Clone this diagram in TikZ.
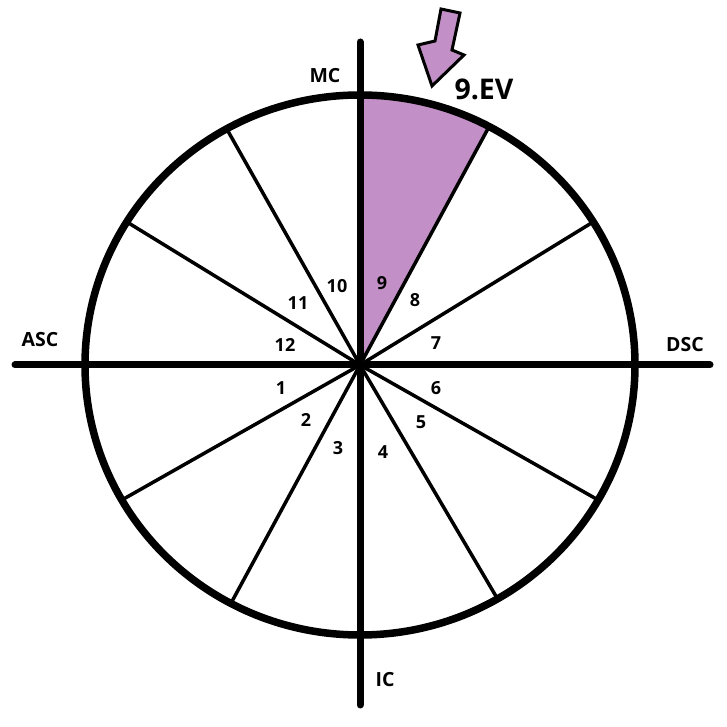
\documentclass[tikz,border=0pt]{standalone}
\usepackage{fontspec}
\setmainfont{Open Sans}
\usetikzlibrary{calc}
\definecolor{sectorpurple}{RGB}{194,144,198}
\begin{document}
\begin{tikzpicture}[x=1pt,y=1pt,
  rim/.style={line width=7.5pt},
  axis/.style={line width=7pt,line cap=round},
  spoke/.style={line width=3.5pt},
  lbl/.style={font=\bfseries\fontsize{19.5}{23}\selectfont,inner sep=0pt},
  num/.style={font=\bfseries\fontsize{18}{21}\selectfont,inner sep=0pt},
  ev/.style={font=\bfseries\fontsize{28.5}{34}\selectfont,inner sep=0pt},
  marker/.style={fill=sectorpurple,draw=black,line width=3pt,line join=miter}]
\useasboundingbox (0,0) rectangle (727,727);
\fill[white] (0,0) rectangle (727,727);
\coordinate (C) at (360,362);
% highlighted 9th house
\fill[sectorpurple] (C) -- ($(C)+(90:275 and 270)$) arc[start angle=90,end angle=62,x radius=275,y radius=270] -- cycle;
% spokes
\foreach \a/\n in {62/a,32/b,-30/c,-60/d,242/e,210/f,148/g,119/h}{
  \coordinate (s\n) at ($(C)+(\a:275 and 270)$);
  \draw[spoke] (C) -- (s\n);
}
% rim
\draw[rim] (C) ellipse[x radius=275,y radius=270];
% axes
\coordinate (mcEnd) at (360,685);
\coordinate (icEnd) at (360,22);
\coordinate (ascEnd) at (15,362);
\coordinate (dscEnd) at (710,362);
\draw[axis] (mcEnd) -- (icEnd);
\draw[axis] (ascEnd) -- (dscEnd);
% axis labels
\node[lbl] (mc) at (325,651) {MC};
\node[lbl] (asc) at (40,387) {ASC};
\node[lbl] (dsc) at (685,382) {DSC};
\node[lbl] (ic) at (385,47) {IC};
% house numbers
\node[num] (n1) at (281,339) {1};
\node[num] (n2) at (306,307) {2};
\node[num] (n3) at (338,279) {3};
\node[num] (n4) at (383,275) {4};
\node[num] (n5) at (421,305) {5};
\node[num] (n6) at (436,339) {6};
\node[num] (n7) at (436,384) {7};
\node[num] (n8) at (415,427) {8};
\node[num] (n9) at (382,444) {9};
\node[num] (n10) at (337,441) {10};
\node[num] (n11) at (298,424) {11};
\node[num] (n12) at (285,382) {12};
% arrow marker
\node[ev] (ev) at (484,638) {9.EV};
\draw[marker] (432,641) -- (418,682) -- (435,686) -- (441,718) -- (460,714) -- (452,677) -- (464,672) -- cycle;
\end{tikzpicture}
\end{document}
